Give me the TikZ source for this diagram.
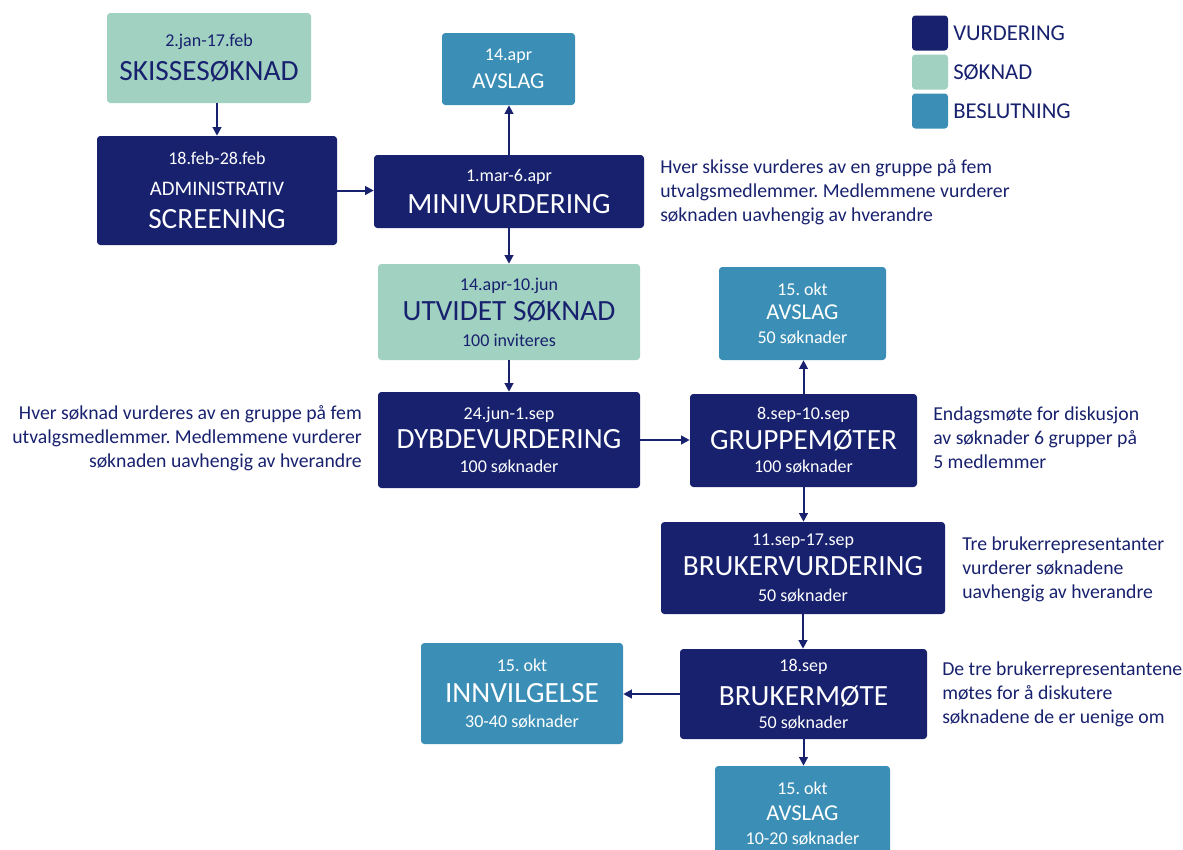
\documentclass[tikz,border=0pt]{standalone}
\usepackage{fontspec}
\setmainfont{Carlito}
\usetikzlibrary{arrows.meta}
\frenchspacing

\definecolor{vurdcol}{HTML}{17216E}
\definecolor{sokcol}{HTML}{A1D1C1}
\definecolor{beslcol}{HTML}{3B8FB6}

\newcommand\datefont{\fontsize{13.5}{16}\selectfont}
\newcommand\titlefont{\fontsize{22}{23.5}\selectfont}
\newcommand\countfont{\fontsize{13.5}{19}\selectfont}
\newcommand\decfont{\fontsize{17}{19.5}\selectfont}
\newcommand\adminfont{\fontsize{15.5}{23}\selectfont}
\newcommand\notefont{\fontsize{14.8}{18}\selectfont}

\tikzset{
  box/.style={rectangle, rounded corners=2.5pt, align=center, inner sep=0pt},
  boxsize/.style 2 args={minimum width=#1*0.75pt, minimum height=#2*0.75pt},
  vurd/.style={box, fill=vurdcol, text=white},
  sok/.style={box, fill=sokcol, text=vurdcol},
  besl/.style={box, fill=beslcol, text=white},
  note/.style={text=vurdcol, font=\notefont, inner sep=0pt},
  legsq/.style={rectangle, rounded corners=2.5pt, boxsize={36}{35}},
  leglabel/.style={text=vurdcol, font=\decfont, inner sep=0pt, anchor=west},
  flow/.style={draw=vurdcol, line width=1.5pt, -{Triangle[length=6.5pt,width=6.5pt]}}
}

\begin{document}
\begin{tikzpicture}[x=0.75pt, y=-0.75pt]
\useasboundingbox (0,0) rectangle (1183,850);

% Legend
\node[legsq, fill=vurdcol] (lvurd) at (930,33) {};
\node[legsq, fill=sokcol] (lsok) at (930,72) {};
\node[legsq, fill=beslcol] (lbesl) at (930,111) {};
\node[leglabel] at (953,33) {VURDERING};
\node[leglabel] at (953,72) {SØKNAD};
\node[leglabel] at (953,111) {BESLUTNING};

% Sketch stage
\node[sok, boxsize={204}{90}] (skisse) at (209,58)
  {\datefont 2.jan-17.feb\\[7pt] \titlefont SKISSESØKNAD};
\node[vurd, boxsize={240}{109}] (admin) at (217,190.5)
  {\datefont 18.feb-28.feb\\[11pt] \adminfont ADMINISTRATIV\\[10pt] \fontsize{22}{26}\selectfont SCREENING};
\node[vurd, boxsize={270}{73}] (mini) at (509,191.5)
  {\datefont 1.mar-6.apr\\[7pt] \fontsize{22}{24}\selectfont MINIVURDERING};
\node[besl, boxsize={133}{72}] (avslag1) at (508.5,69)
  {\datefont 14.apr\\[7pt] \decfont AVSLAG};

% Full application
\node[sok, boxsize={262}{96}] (utvidet) at (509,312)
  {\datefont 14.apr-10.jun\\[5pt] \titlefont UTVIDET SØKNAD\\[7pt] \countfont 100 inviteres};
\node[vurd, boxsize={262}{96}] (dybde) at (509,440)
  {\datefont 24.jun-1.sep\\[4.5pt] \titlefont DYBDEVURDERING\\[5.5pt] \countfont 100 søknader};
\node[vurd, boxsize={227}{93}] (gruppe) at (803.5,440.5)
  {\datefont 8.sep-10.sep\\[4.5pt] \titlefont GRUPPEMØTER\\[5.5pt] \countfont 100 søknader};
\node[besl, boxsize={167}{93}] (avslag2) at (802.5,313.5)
  {\datefont 15. okt\\[6pt] \decfont AVSLAG\\[6pt] \fontsize{13.5}{18}\selectfont 50 søknader};

% User stage
\node[vurd, boxsize={284}{92}] (brukerv) at (803,568)
  {\datefont 11.sep-17.sep\\[5pt] \titlefont BRUKERVURDERING\\[7pt] \countfont 50 søknader};
\node[vurd, boxsize={247}{90}] (brukerm) at (803.5,694)
  {\datefont 18.sep\\[7.5pt] \titlefont BRUKERMØTE\\[5pt] \countfont 50 søknader};
\node[besl, boxsize={202}{101}] (innv) at (522,693.5)
  {\datefont 15. okt\\[8pt] \titlefont INNVILGELSE\\[7pt] \countfont 30-40 søknader};
\node[besl, boxsize={175}{96}] (avslag3) at (802.5,814)
  {\datefont 15. okt\\[7.5pt] \decfont AVSLAG\\[6pt] \fontsize{13.5}{18}\selectfont 10-20 søknader};

% Notes
\node[note, align=left, anchor=west] (minitext) at (660,192)
  {Hver skisse vurderes av en gruppe på fem\\ utvalgsmedlemmer. Medlemmene vurderer\\ søknaden uavhengig av hverandre};
\node[note, align=right, anchor=east] (dybdetext) at (362,438)
  {Hver søknad vurderes av en gruppe på fem\\ utvalgsmedlemmer. Medlemmene vurderer\\ søknaden uavhengig av hverandre};
\node[note, align=left, anchor=west] (gruppetext) at (933,438)
  {Endagsmøte for diskusjon\\ av søknader 6 grupper på\\ 5 medlemmer};
\node[note, align=left, anchor=west] (brukervtext) at (962,569)
  {Tre brukerrepresentanter\\ vurderer søknadene\\ uavhengig av hverandre};
\node[note, align=left, anchor=west] (brukermtext) at (942,694)
  {De tre brukerrepresentantene\\ møtes for å diskutere\\ søknadene de er uenige om};

% Arrows
\draw[flow] (skisse.south -| admin.north) -- (admin.north);
\draw[flow] (admin.east) -- (admin.east -| mini.west);
\draw[flow] (mini.north) -- (mini.north |- avslag1.south);
\draw[flow] (mini.south) -- (mini.south |- utvidet.north);
\draw[flow] (utvidet.south) -- (utvidet.south |- dybde.north);
\draw[flow] (dybde.east) -- (dybde.east -| gruppe.west);
\draw[flow] (gruppe.north) -- (gruppe.north |- avslag2.south);
\draw[flow] (gruppe.south) -- (gruppe.south |- brukerv.north);
\draw[flow] (brukerv.south) -- (brukerv.south |- brukerm.north);
\draw[flow] (brukerm.west) -- (brukerm.west -| innv.east);
\draw[flow] (brukerm.south) -- (brukerm.south |- avslag3.north);

\end{tikzpicture}
\end{document}
